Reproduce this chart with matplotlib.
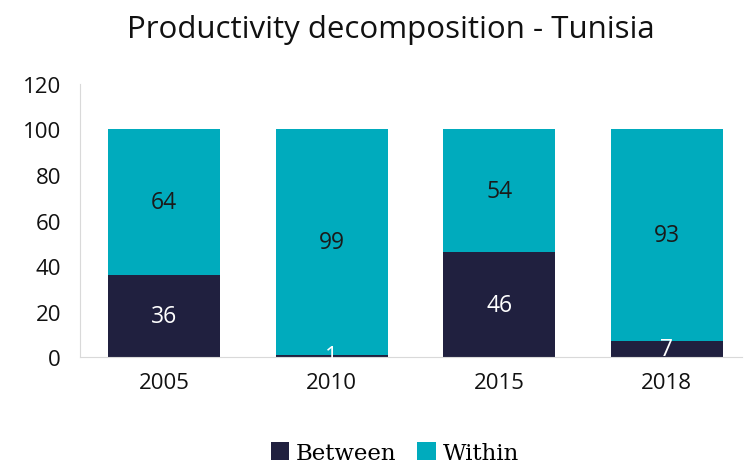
import matplotlib.pyplot as plt
import numpy as np

years = ['2005', '2010', '2015', '2018']
between = [36, 1, 46, 7]
within = [64, 99, 54, 93]

dark = '#20203f'
teal = '#00abbd'

plt.rcParams['font.family'] = ['Open Sans', 'DejaVu Sans']

fig = plt.figure(figsize=(7.45, 4.64), dpi=100)
ax = fig.add_axes([0.108, 0.228, 0.888, 0.589])

x = np.arange(len(years))
w = 0.67
b1 = ax.bar(x, between, w, color=dark, label='Between')
b2 = ax.bar(x, within, w, bottom=between, color=teal, label='Within')

for i in range(len(years)):
    ax.text(x[i], between[i] / 2, str(between[i]), ha='center', va='center',
            color='white', fontsize=16.5)
    ax.text(x[i], between[i] + within[i] / 2, str(within[i]), ha='center',
            va='center', color='#1a1a1a', fontsize=16.5)

ax.set_xlim(-0.5, 3.45)
ax.set_ylim(0, 120)
ax.set_yticks(range(0, 121, 20))
ax.set_xticks(x)
ax.set_xticklabels(years)
ax.tick_params(axis='both', length=0, labelsize=16, colors='#111111')
ax.tick_params(axis='x', pad=11)
ax.tick_params(axis='y', pad=14)
for s in ['top', 'right']:
    ax.spines[s].set_visible(False)
ax.spines['left'].set_color('#d9d9d9')
ax.spines['bottom'].set_color('#d9d9d9')

fig.text(0.525, 0.935, 'Productivity decomposition - Tunisia', ha='center',
         va='center', fontsize=22.5, color='#111111')

fig.legend(handles=[b1, b2], loc='center', bbox_to_anchor=(0.53, 0.022),
           ncol=2, frameon=False, handlelength=0.8, handleheight=0.8,
           handletextpad=0.3, columnspacing=0.9,
           prop={'family': 'DejaVu Serif', 'size': 16.5})

fig.savefig('out.png', dpi=100)
